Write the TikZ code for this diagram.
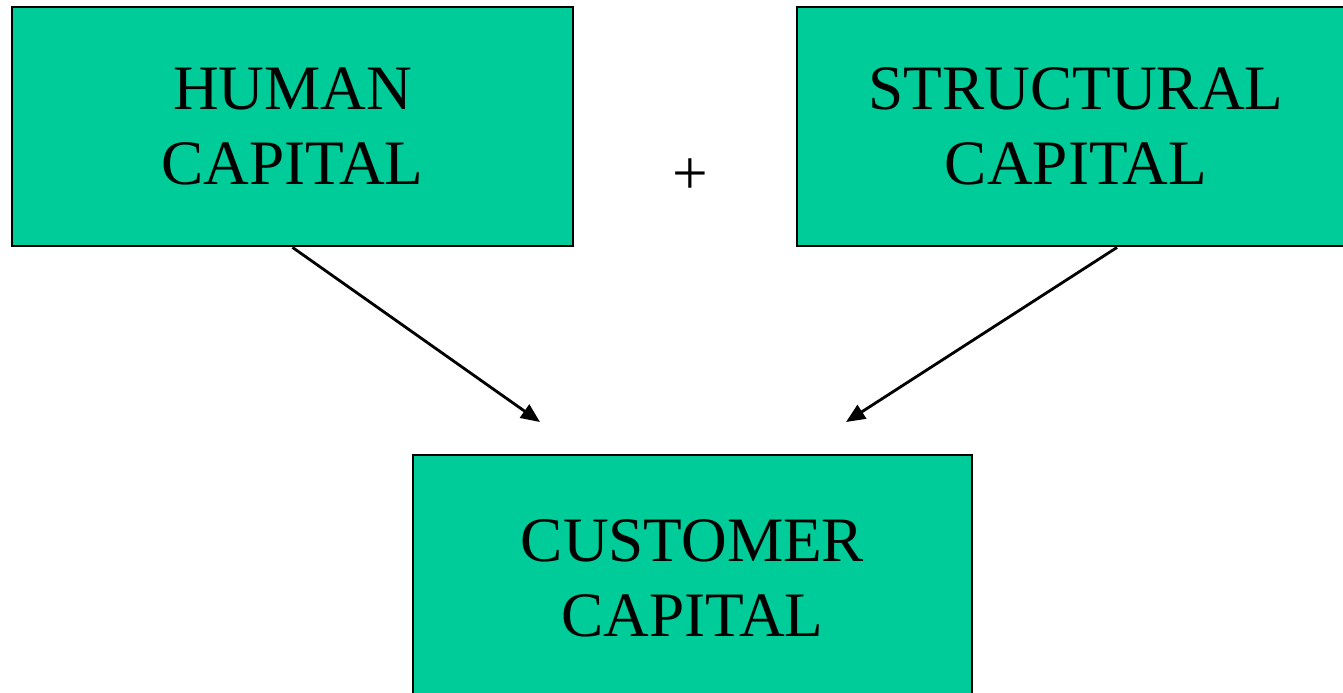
\documentclass[tikz,border=0pt]{standalone}
\usepackage{fontspec}
\setmainfont{Liberation Serif}
\usetikzlibrary{arrows.meta}

\definecolor{capgreen}{RGB}{0,204,153}

\begin{document}
\begin{tikzpicture}[
    block/.style={rectangle, draw, line width=0.8pt, fill=capgreen, inner sep=0pt, minimum height=2.39cm, align=center, font=\fontsize{18}{21.5}\selectfont},
    sign/.style={font=\fontsize{18}{21.5}\selectfont},
    arrow/.style={-{Triangle[length=0.19cm, width=0.16cm]}, line width=0.8pt},
]

%Background
\useasboundingbox (0,0) rectangle (13.43,-6.92);
\clip (0,0) rectangle (13.43,-6.92);

% Capital boxes
\node[block, minimum width=5.61cm] (human) at (2.925,-1.265) {HUMAN\\CAPITAL};
\node[block, minimum width=5.58cm] (structural) at (10.76,-1.265) {STRUCTURAL\\CAPITAL};
\node[block, minimum width=5.59cm, minimum height=2.47cm] (customer) at (6.925,-5.785) {CUSTOMER\\CAPITAL};

\node[sign] (plus) at (6.9,-1.77) {+};

% Arrow tips stop short of the customer box
\coordinate (human_tip) at (5.40,-4.22);
\coordinate (structural_tip) at (8.46,-4.22);

% Arrows
\draw[arrow] (human.south) -- (human_tip);
\draw[arrow] ([xshift=0.41cm]structural.south) -- (structural_tip);

\end{tikzpicture}
\end{document}
